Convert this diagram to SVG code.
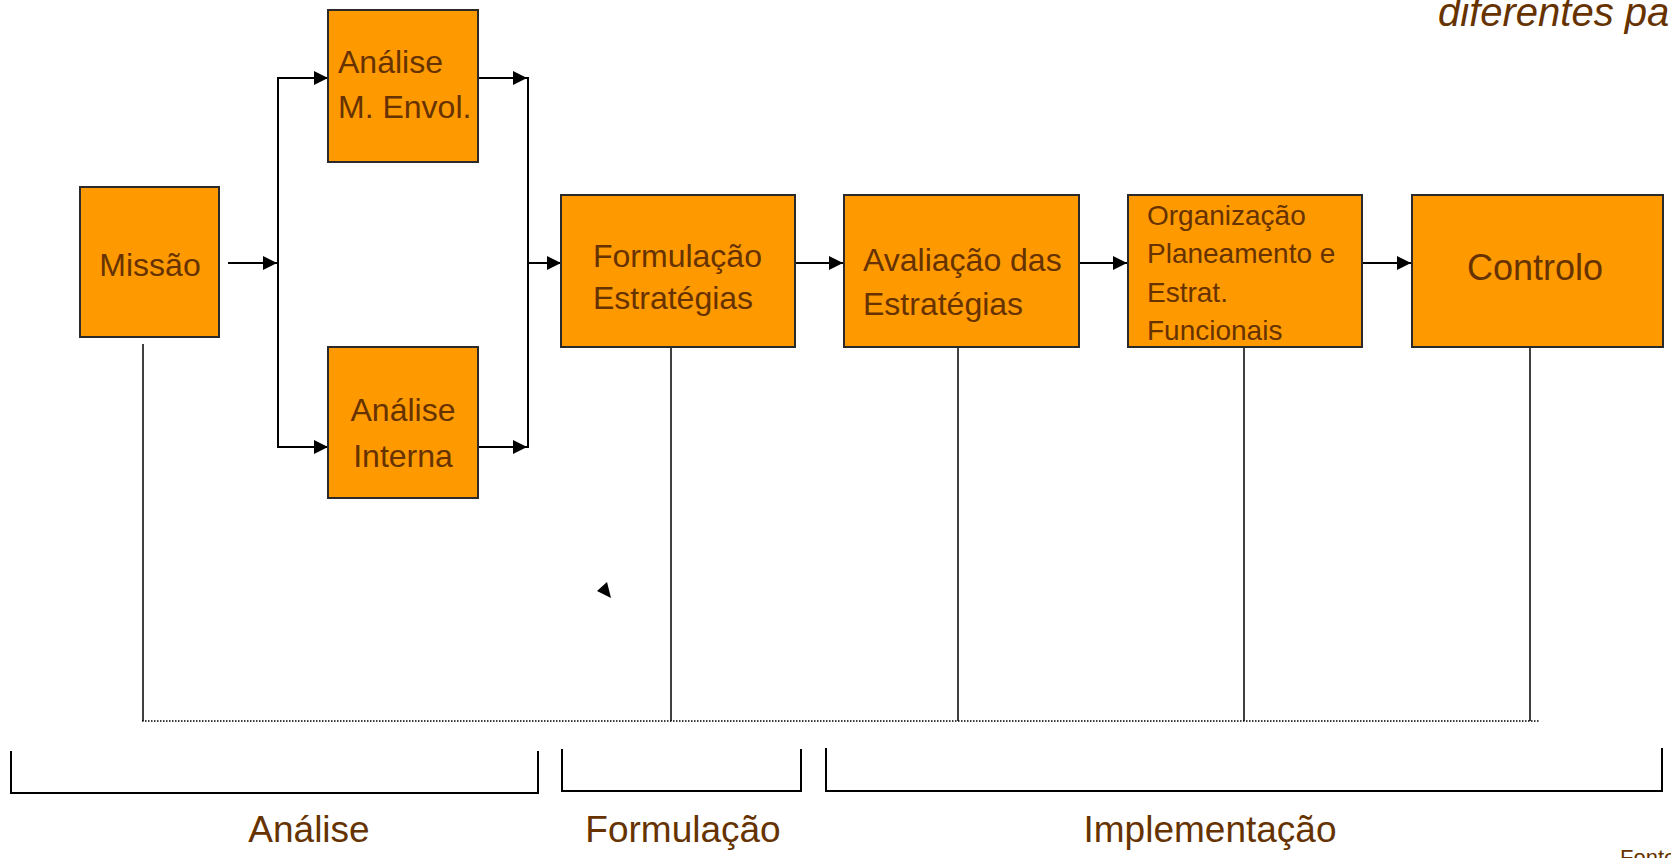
<svg xmlns="http://www.w3.org/2000/svg" width="1671" height="858" viewBox="0 0 1671 858">
<style>
.box{fill:#FF9900;stroke:#2a2a2a;stroke-width:2}
.t{font-family:"Liberation Sans",Arial,sans-serif;fill:#663300}
.c{stroke:#000;stroke-width:2;fill:none}
.v{stroke:#000;stroke-width:1.5;fill:none}
.br{stroke:#000;stroke-width:2;fill:none}
</style>
<defs>
<marker id="ah" markerUnits="userSpaceOnUse" markerWidth="15" markerHeight="14" refX="14" refY="7" orient="auto">
<path d="M0,0 L14,7 L0,14 z" fill="#000"/>
</marker>
</defs>
<rect width="1671" height="858" fill="#fff"/>

<text class="t" x="1438" y="26" font-size="40" font-style="italic">diferentes pa</text>

<g id="connectors">
<line class="c" x1="228" y1="263" x2="277" y2="263" marker-end="url(#ah)"/>
<line class="c" x1="278" y1="77" x2="278" y2="448"/>
<line class="c" x1="278" y1="78" x2="328" y2="78" marker-end="url(#ah)"/>
<line class="c" x1="278" y1="447" x2="328" y2="447" marker-end="url(#ah)"/>
<line class="c" x1="478" y1="78" x2="527" y2="78" marker-end="url(#ah)"/>
<line class="c" x1="478" y1="447" x2="527" y2="447" marker-end="url(#ah)"/>
<line class="c" x1="528" y1="77" x2="528" y2="448"/>
<line class="c" x1="528" y1="263" x2="561" y2="263" marker-end="url(#ah)"/>
<line class="c" x1="795" y1="263" x2="843" y2="263" marker-end="url(#ah)"/>
<line class="c" x1="1079" y1="263" x2="1127" y2="263" marker-end="url(#ah)"/>
<line class="c" x1="1362" y1="263" x2="1411" y2="263" marker-end="url(#ah)"/>
<line class="v" x1="143" y1="344" x2="143" y2="721"/>
<line class="v" x1="671" y1="343" x2="671" y2="721"/>
<line class="v" x1="958" y1="346" x2="958" y2="721"/>
<line class="v" x1="1244" y1="343" x2="1244" y2="721"/>
<line class="v" x1="1530" y1="343" x2="1530" y2="721"/>
<line x1="142" y1="721" x2="1539" y2="721" stroke="#000" stroke-width="1.5" stroke-dasharray="1.5 1.5"/>
<polygon points="597,591 607,582 611,598" fill="#000"/>
</g>

<g id="missao">
<rect class="box" x="80" y="187" width="139" height="150"/>
<text class="t" x="150" y="276" font-size="32" text-anchor="middle">Missão</text>
</g>
<g id="analise-envol">
<rect class="box" x="328" y="10" width="150" height="152"/>
<text class="t" x="338" y="73" font-size="32">Análise</text>
<text class="t" x="338" y="118" font-size="32">M. Envol.</text>
</g>
<g id="analise-interna">
<rect class="box" x="328" y="347" width="150" height="151"/>
<text class="t" x="403" y="421" font-size="32" text-anchor="middle">Análise</text>
<text class="t" x="403" y="467" font-size="32" text-anchor="middle">Interna</text>
</g>
<g id="formulacao">
<rect class="box" x="561" y="195" width="234" height="152"/>
<text class="t" x="593" y="267" font-size="32">Formulação</text>
<text class="t" x="593" y="309" font-size="32">Estratégias</text>
</g>
<g id="avaliacao">
<rect class="box" x="844" y="195" width="235" height="152"/>
<text class="t" x="863" y="271" font-size="32">Avaliação das</text>
<text class="t" x="863" y="315" font-size="32">Estratégias</text>
</g>
<g id="organizacao">
<rect class="box" x="1128" y="195" width="234" height="152"/>
<text class="t" x="1147" y="225" font-size="28">Organização</text>
<text class="t" x="1147" y="263" font-size="28">Planeamento e</text>
<text class="t" x="1147" y="302" font-size="28">Estrat.</text>
<text class="t" x="1147" y="340" font-size="28">Funcionais</text>
</g>
<g id="controlo">
<rect class="box" x="1412" y="195" width="251" height="152"/>
<text class="t" x="1535" y="280" font-size="36" text-anchor="middle">Controlo</text>
</g>

<g id="brackets">
<polyline class="br" points="11,751 11,793 538,793 538,751"/>
<polyline class="br" points="562,749 562,791 801,791 801,749"/>
<polyline class="br" points="826,748 826,791 1662,791 1662,748"/>
</g>
<g id="labels">
<text class="t" x="309" y="842" font-size="37" text-anchor="middle">Análise</text>
<text class="t" x="683" y="842" font-size="37" text-anchor="middle">Formulação</text>
<text class="t" x="1210" y="842" font-size="37" text-anchor="middle">Implementação</text>
<text class="t" x="1620" y="865" font-size="22">Fonte:</text>
</g>
</svg>
